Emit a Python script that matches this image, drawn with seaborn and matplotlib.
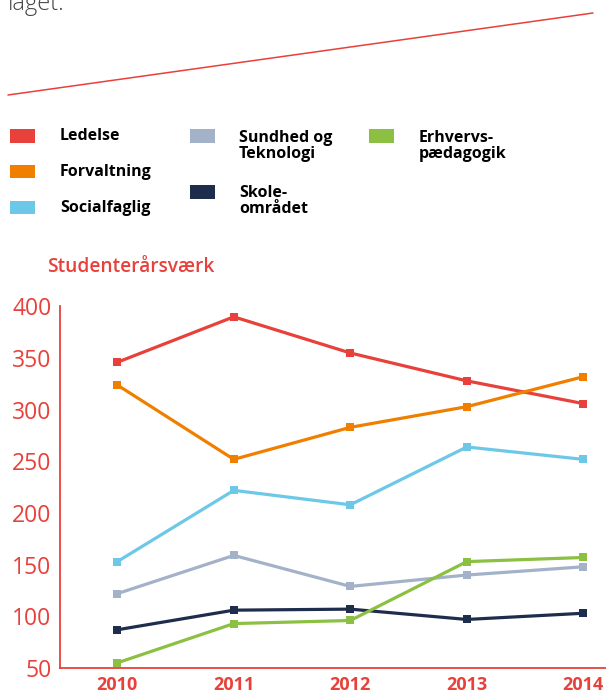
import matplotlib
matplotlib.use("Agg")
import matplotlib.pyplot as plt
import matplotlib.patches as mpatches
from matplotlib.lines import Line2D
import seaborn as sns
import pandas as pd

years = [2010, 2011, 2012, 2013, 2014]
series_names = ["Ledelse", "Forvaltning", "Socialfaglig", "Sundhed og Teknologi",
                "Skoleområdet", "Erhvervspædagogik"]
ledelse = [346, 390, 355, 328, 306]
forvaltning = [324, 252, 283, 303, 332]
socialfaglig = [153, 222, 208, 264, 252]
sundhed = [122, 159, 129, 140, 148]
skole = [87, 106, 107, 97, 103]
erhvervs = [55, 93, 96, 153, 157]
yticks = [50, 100, 150, 200, 250, 300, 350, 400]
colors = ["#E8403A", "#F07F00", "#6DC8E8", "#A3B2C8", "#1F2D4D", "#8BC043"]

values = [ledelse, forvaltning, socialfaglig, sundhed, skole, erhvervs]
rows = []
for name, vals in zip(series_names, values):
    for y, v in zip(years, vals):
        rows.append({"År": y, "Værdi": v, "Serie": name})
df = pd.DataFrame(rows)

sns.set_style("white")
plt.rcParams['font.family'] = ['Open Sans', 'DejaVu Sans']

RED = "#E8403A"
fig = plt.figure(figsize=(6.06, 6.95), dpi=100)
ax = fig.add_axes([60/606, 1-668/695, 1-60/606, (668-306.5)/695])

sns.lineplot(data=df, x="År", y="Værdi", hue="Serie", palette=colors,
             hue_order=series_names, marker="s", markersize=6, markeredgewidth=0,
             linewidth=2.3, dashes=False, legend=False, ax=ax)

ax.set_xlim(2009.508, 2014.195)
ax.set_ylim(50, 400)
ax.set_xticks(years)
ax.set_xticklabels([str(y) for y in years], fontsize=13, fontweight="bold", color=RED)
ax.set_yticks(yticks)
ax.set_yticklabels([str(t) for t in yticks], fontsize=16.5, fontweight="normal", color=RED)
ax.tick_params(axis="y", direction="in", length=9.5, width=1, color="#EE6B66", pad=6)
ax.tick_params(axis="x", length=0, pad=5.5)
ax.set_xlabel("")
ax.set_ylabel("")
for side in ["top", "right"]:
    ax.spines[side].set_visible(False)
for side in ["left", "bottom"]:
    ax.spines[side].set_color(RED)
    ax.spines[side].set_linewidth(1.3)
ax.set_facecolor("white")

# y-axis title
fig.text(47/606, 1-267/695, "Studenterårsværk", fontsize=13.8, fontweight="semibold",
         color=RED, ha="left", va="center")

# top text fragment and decorative line
fig.text(8/606, 1-10/695, "laget.", fontsize=17, fontweight="light", color="#444444",
         ha="left", va="baseline")
fig.add_artist(Line2D([8/606, 593/606], [1-95/695, 1-13/695], color=RED, linewidth=1.1))

# legend
def patch(x0, y0, x1, y1, c):
    fig.add_artist(mpatches.Rectangle((x0/606, 1-y1/695), (x1-x0)/606, (y1-y0)/695,
                                      facecolor=c, edgecolor="none"))

def ltext(x, y, s):
    fig.text(x/606, 1-y/695, s, fontsize=11.5, fontweight="bold", color="#000000",
             ha="left", va="center", linespacing=0.95)

patch(10, 129, 35, 143, colors[0]); ltext(60, 136, "Ledelse")
patch(10, 165, 35, 178, colors[1]); ltext(60, 172, "Forvaltning")
patch(10, 201, 35, 214, colors[2]); ltext(60, 208, "Socialfaglig")
patch(190, 129, 215, 143, colors[3]); ltext(239, 146, "Sundhed og\nTeknologi")
patch(190, 185, 215, 199, colors[4]); ltext(239, 201, "Skole-\nområdet")
patch(369, 129, 394, 143, colors[5]); ltext(419, 146, "Erhvervs-\npædagogik")

fig.savefig("out.png", dpi=100, facecolor="white")
